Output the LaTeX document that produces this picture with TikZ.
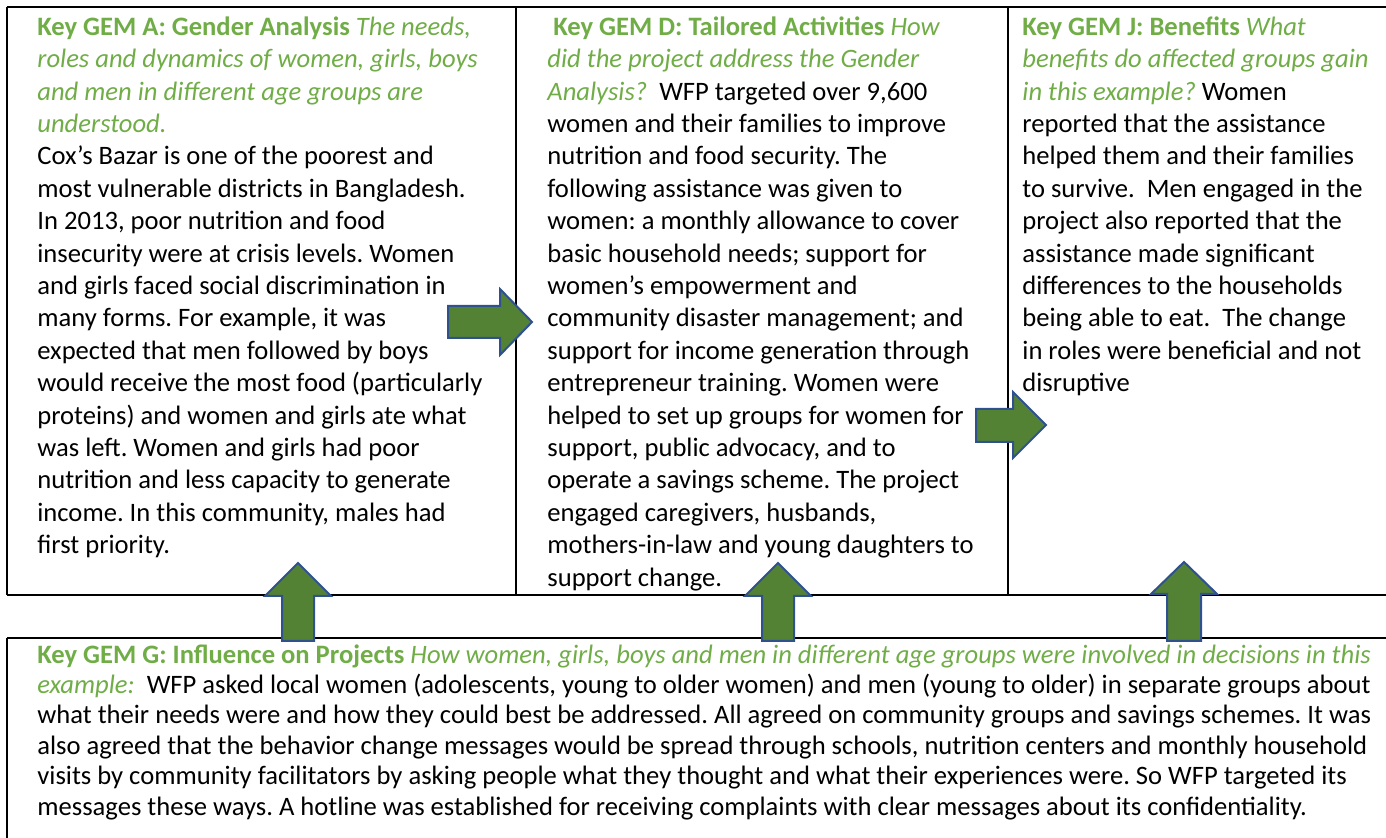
\documentclass[tikz,border=0pt]{standalone}
\usepackage{fontspec}
\setmainfont{Carlito}
\frenchspacing
\definecolor{gemgreen}{HTML}{70AD47}
\definecolor{arrowfill}{HTML}{548235}
\definecolor{arrowline}{HTML}{2F528F}
\newcommand{\gemhead}[1]{\textcolor{gemgreen}{\textbf{#1}}}
\newcommand{\gemq}[1]{\textcolor{gemgreen}{\textit{#1}}}
\begin{document}
\begin{tikzpicture}[x=0.5pt,y=-0.5pt,
  rule/.style={line width=1pt,black},
  celltext/.style={anchor=north west,inner sep=0pt,align=left,
    font=\fontsize{13.3pt}{16.2pt}\selectfont},
  widetext/.style={anchor=north west,inner sep=0pt,align=left,
    font=\fontsize{13.3pt}{15.2pt}\selectfont},
  blockarrow/.style={fill=arrowfill,draw=arrowline,line width=1pt,line join=miter}]
\useasboundingbox (0,0) rectangle (1386,838);

% table rules: upper row of three cells
\draw[rule] (7,7) -- (1386,7);
\draw[rule] (7,595) -- (1386,595);
\draw[rule] (7,7) -- (7,595);
\draw[rule] (516,7) -- (516,595);
\draw[rule] (1008,7) -- (1008,595);
% lower cell
\draw[rule] (7,638) -- (1386,638);
\draw[rule] (7,638) -- (7,838);

% cell texts (first baseline at y = 35, strut height 22.7)
\node[celltext] (gemA) at (37,12.3) {%
\strut\gemhead{Key GEM A: Gender Analysis} \gemq{The needs,}\\
\gemq{roles and dynamics of women, girls, boys}\\
\gemq{and men in different age groups are}\\
\gemq{understood.}\\
Cox’s Bazar is one of the poorest and\\
most vulnerable districts in Bangladesh.\\
In 2013, poor nutrition and food\\
insecurity were at crisis levels. Women\\
and girls faced social discrimination in\\
many forms. For example, it was\\
expected that men followed by boys\\
would receive the most food (particularly\\
proteins) and women and girls ate what\\
was left. Women and girls had poor\\
nutrition and less capacity to generate\\
income. In this community, males had\\
first priority.};

\node[celltext] (gemD) at (547,12.3) {%
\strut\hspace*{3pt}\gemhead{Key GEM D: Tailored Activities} \gemq{How}\\
\gemq{did the project address the Gender}\\
\gemq{Analysis?}\ \ WFP targeted over 9,600\\
women and their families to improve\\
nutrition and food security. The\\
following assistance was given to\\
women: a monthly allowance to cover\\
basic household needs; support for\\
women’s empowerment and\\
community disaster management; and\\
support for income generation through\\
entrepreneur training. Women were\\
helped to set up groups for women for\\
support, public advocacy, and to\\
operate a savings scheme. The project\\
engaged caregivers, husbands,\\
mothers-in-law and young daughters to\\
support change.};

\node[celltext] (gemJ) at (1022,12.3) {%
\strut\gemhead{Key GEM J: Benefits} \gemq{What}\\
\gemq{benefits do affected groups gain}\\
\gemq{in this example?} Women\\
reported that the assistance\\
helped them and their families\\
to survive.\ \ Men engaged in the\\
project also reported that the\\
assistance made significant\\
differences to the households\\
being able to eat.\ \ The change\\
in roles were beneficial and not\\
disruptive};

% lower cell text (first baseline at y = 662, strut height 21.3)
\node[widetext] (gemG) at (37,641.5) {%
\strut\gemhead{Key GEM G: Influence on Projects} \gemq{How women, girls, boys and men in different age groups were involved in decisions in this}\\
\gemq{example:}\ \ WFP asked local women (adolescents, young to older women) and men (young to older) in separate groups about\\
what their needs were and how they could best be addressed. All agreed on community groups and savings schemes. It was\\
also agreed that the behavior change messages would be spread through schools, nutrition centers and monthly household\\
visits by community facilitators by asking people what they thought and what their experiences were. So WFP targeted its\\
messages these ways. A hotline was established for receiving complaints with clear messages about its confidentiality.};

% block arrows: A -> D and D -> J
\draw[blockarrow] (448,306) -- (500,306) -- (500,289) -- (532,322) -- (500,355) -- (500,338) -- (448,338) -- cycle;
\draw[blockarrow] (976,409) -- (1013,409) -- (1013,392) -- (1046,425) -- (1013,458) -- (1013,442) -- (976,442) -- cycle;
% block arrows: G feeding each upper cell
\draw[blockarrow] (282,641) -- (282,596) -- (265,596) -- (298,563) -- (331,596) -- (314,596) -- (314,641) -- cycle;
\draw[blockarrow] (762,641) -- (762,596) -- (745,596) -- (778,563) -- (811,596) -- (794,596) -- (794,641) -- cycle;
\draw[blockarrow] (1167,641) -- (1167,594) -- (1151,594) -- (1184,562) -- (1217,594) -- (1201,594) -- (1201,641) -- cycle;
\end{tikzpicture}
\end{document}
